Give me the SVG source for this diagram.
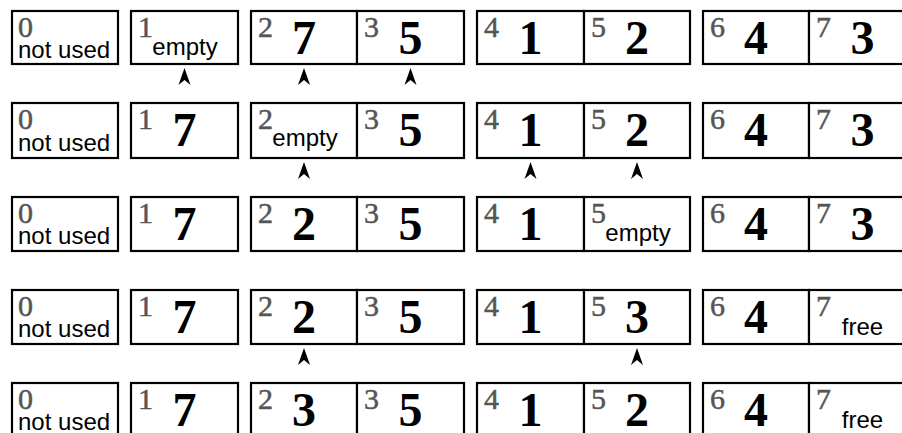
<svg xmlns="http://www.w3.org/2000/svg" width="902" height="433" viewBox="0 0 902 433">
<style>
.c{fill:#fff;stroke:#000;stroke-width:2.2}
.i{font-family:"Liberation Serif",serif;font-size:30px;fill:#555;stroke:#555;stroke-width:0.5}
.n{font-family:"Liberation Serif",serif;font-size:48px;font-weight:bold;fill:#000;text-anchor:middle}
.l{font-family:"Liberation Sans",Arial,sans-serif;font-size:24px;fill:#000}
.m{text-anchor:middle}
.a{fill:#000}
</style>
<defs>
<path id="arr" d="M0,0 L6,17 L0,12 L-6,17 Z"/>
</defs>
<rect width="902" height="433" fill="#fff"/>
<!-- Row 1 -->
<g id="r1c0"><rect class="c" x="12" y="11" width="106" height="53"/><text class="i" x="18" y="37">0</text><text class="l" x="18" y="57.5">not used</text></g>
<g id="r1c1"><rect class="c" x="131" y="11" width="107" height="53"/><text class="i" x="138" y="37">1</text><text class="l m" x="185" y="55">empty</text></g>
<g id="r1c2"><rect class="c" x="251" y="11" width="106" height="53"/><text class="i" x="258" y="37">2</text><text class="n" x="304" y="53.5">7</text></g>
<g id="r1c3"><rect class="c" x="357" y="11" width="107" height="53"/><text class="i" x="364" y="37">3</text><text class="n" x="410.5" y="53.5">5</text></g>
<g id="r1c4"><rect class="c" x="477" y="11" width="107" height="53"/><text class="i" x="484" y="37">4</text><text class="n" x="530.5" y="53.5">1</text></g>
<g id="r1c5"><rect class="c" x="584" y="11" width="106" height="53"/><text class="i" x="591" y="37">5</text><text class="n" x="637" y="53.5">2</text></g>
<g id="r1c6"><rect class="c" x="703" y="11" width="106" height="53"/><text class="i" x="710" y="37">6</text><text class="n" x="756" y="53.5">4</text></g>
<g id="r1c7"><rect class="c" x="809" y="11" width="107" height="53"/><text class="i" x="816" y="37">7</text><text class="n" x="862.5" y="53.5">3</text></g>
<!-- Row 2 -->
<g id="r2c0"><rect class="c" x="12" y="103" width="106" height="55"/><text class="i" x="18" y="129">0</text><text class="l" x="18" y="150.5">not used</text></g>
<g id="r2c1"><rect class="c" x="131" y="103" width="107" height="55"/><text class="i" x="138" y="129">1</text><text class="n" x="184.5" y="146">7</text></g>
<g id="r2c2"><rect class="c" x="251" y="103" width="106" height="55"/><text class="i" x="258" y="129">2</text><text class="l m" x="305" y="146">empty</text></g>
<g id="r2c3"><rect class="c" x="357" y="103" width="107" height="55"/><text class="i" x="364" y="129">3</text><text class="n" x="410.5" y="146">5</text></g>
<g id="r2c4"><rect class="c" x="477" y="103" width="107" height="55"/><text class="i" x="484" y="129">4</text><text class="n" x="530.5" y="146">1</text></g>
<g id="r2c5"><rect class="c" x="584" y="103" width="106" height="55"/><text class="i" x="591" y="129">5</text><text class="n" x="637" y="146">2</text></g>
<g id="r2c6"><rect class="c" x="703" y="103" width="106" height="55"/><text class="i" x="710" y="129">6</text><text class="n" x="756" y="146">4</text></g>
<g id="r2c7"><rect class="c" x="809" y="103" width="107" height="55"/><text class="i" x="816" y="129">7</text><text class="n" x="862.5" y="146">3</text></g>
<!-- Row 3 -->
<g id="r3c0"><rect class="c" x="12" y="197" width="106" height="54"/><text class="i" x="18" y="223">0</text><text class="l" x="18" y="243.5">not used</text></g>
<g id="r3c1"><rect class="c" x="131" y="197" width="107" height="54"/><text class="i" x="138" y="223">1</text><text class="n" x="184.5" y="239.5">7</text></g>
<g id="r3c2"><rect class="c" x="251" y="197" width="106" height="54"/><text class="i" x="258" y="223">2</text><text class="n" x="304" y="239.5">2</text></g>
<g id="r3c3"><rect class="c" x="357" y="197" width="107" height="54"/><text class="i" x="364" y="223">3</text><text class="n" x="410.5" y="239.5">5</text></g>
<g id="r3c4"><rect class="c" x="477" y="197" width="107" height="54"/><text class="i" x="484" y="223">4</text><text class="n" x="530.5" y="239.5">1</text></g>
<g id="r3c5"><rect class="c" x="584" y="197" width="106" height="54"/><text class="i" x="591" y="223">5</text><text class="l m" x="638" y="241">empty</text></g>
<g id="r3c6"><rect class="c" x="703" y="197" width="106" height="54"/><text class="i" x="710" y="223">6</text><text class="n" x="756" y="239.5">4</text></g>
<g id="r3c7"><rect class="c" x="809" y="197" width="107" height="54"/><text class="i" x="816" y="223">7</text><text class="n" x="862.5" y="239.5">3</text></g>
<!-- Row 4 -->
<g id="r4c0"><rect class="c" x="12" y="290" width="106" height="54"/><text class="i" x="18" y="316">0</text><text class="l" x="18" y="336.5">not used</text></g>
<g id="r4c1"><rect class="c" x="131" y="290" width="107" height="54"/><text class="i" x="138" y="316">1</text><text class="n" x="184.5" y="332.5">7</text></g>
<g id="r4c2"><rect class="c" x="251" y="290" width="106" height="54"/><text class="i" x="258" y="316">2</text><text class="n" x="304" y="332.5">2</text></g>
<g id="r4c3"><rect class="c" x="357" y="290" width="107" height="54"/><text class="i" x="364" y="316">3</text><text class="n" x="410.5" y="332.5">5</text></g>
<g id="r4c4"><rect class="c" x="477" y="290" width="107" height="54"/><text class="i" x="484" y="316">4</text><text class="n" x="530.5" y="332.5">1</text></g>
<g id="r4c5"><rect class="c" x="584" y="290" width="106" height="54"/><text class="i" x="591" y="316">5</text><text class="n" x="637" y="332.5">3</text></g>
<g id="r4c6"><rect class="c" x="703" y="290" width="106" height="54"/><text class="i" x="710" y="316">6</text><text class="n" x="756" y="332.5">4</text></g>
<g id="r4c7"><rect class="c" x="809" y="290" width="107" height="54"/><text class="i" x="816" y="316">7</text><text class="l m" x="862.5" y="335">free</text></g>
<!-- Row 5 -->
<g id="r5c0"><rect class="c" x="12" y="383" width="106" height="54"/><text class="i" x="18" y="409">0</text><text class="l" x="18" y="429.5">not used</text></g>
<g id="r5c1"><rect class="c" x="131" y="383" width="107" height="54"/><text class="i" x="138" y="409">1</text><text class="n" x="184.5" y="425.5">7</text></g>
<g id="r5c2"><rect class="c" x="251" y="383" width="106" height="54"/><text class="i" x="258" y="409">2</text><text class="n" x="304" y="425.5">3</text></g>
<g id="r5c3"><rect class="c" x="357" y="383" width="107" height="54"/><text class="i" x="364" y="409">3</text><text class="n" x="410.5" y="425.5">5</text></g>
<g id="r5c4"><rect class="c" x="477" y="383" width="107" height="54"/><text class="i" x="484" y="409">4</text><text class="n" x="530.5" y="425.5">1</text></g>
<g id="r5c5"><rect class="c" x="584" y="383" width="106" height="54"/><text class="i" x="591" y="409">5</text><text class="n" x="637" y="425.5">2</text></g>
<g id="r5c6"><rect class="c" x="703" y="383" width="106" height="54"/><text class="i" x="710" y="409">6</text><text class="n" x="756" y="425.5">4</text></g>
<g id="r5c7"><rect class="c" x="809" y="383" width="107" height="54"/><text class="i" x="816" y="409">7</text><text class="l m" x="862.5" y="428">free</text></g>
<g id="connectors" class="a">
<use href="#arr" x="184.5" y="68"/>
<use href="#arr" x="304" y="68"/>
<use href="#arr" x="410.5" y="68"/>
<use href="#arr" x="304" y="162"/>
<use href="#arr" x="530.5" y="162"/>
<use href="#arr" x="637" y="162"/>
<use href="#arr" x="304" y="348"/>
<use href="#arr" x="637" y="348"/>
</g>
</svg>
